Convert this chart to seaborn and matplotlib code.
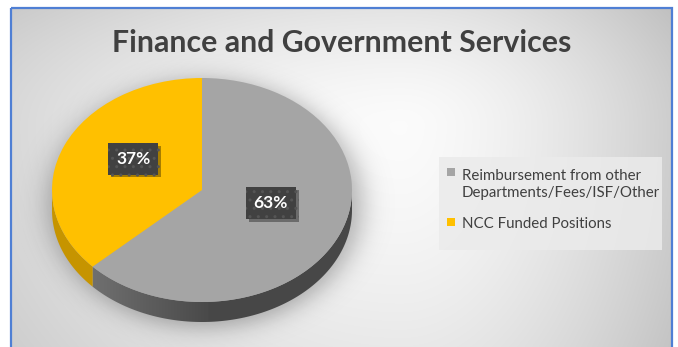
import numpy as np
import matplotlib
matplotlib.use("Agg")
import matplotlib.pyplot as plt
import matplotlib.patheffects as pe
from matplotlib.patches import Rectangle, Polygon
import seaborn as sns

# ---- data -------------------------------------------------------------
categories = ["Reimbursement from other\nDepartments/Fees/ISF/Other",
              "NCC Funded Positions"]
shares = [63, 37]
pct_labels = ["63%", "37%"]
chart_title = "Finance and Government Services"

# ---- styling ----------------------------------------------------------
sns.set_theme(style="white")
plt.rcParams["font.family"] = ["Lato", "DejaVu Sans"]

top_colors = ["#a5a5a5", "#ffc000"]
text_color = "#404040"

W, H = 678, 347
fig = plt.figure(figsize=(W / 100, H / 100), dpi=100)
fig.patch.set_facecolor("white")

# background layer in pixel units (y grows downward)
bg = fig.add_axes([0, 0, 1, 1])
bg.set_xlim(0, W)
bg.set_ylim(H, 0)
bg.axis("off")

yy, xx = np.mgrid[0:H, 0:W] + 0.5
dx = np.where(xx < 400, (xx - 400) / 520, (xx - 400) / 300)
dy = np.where(yy < 120, (yy - 120) / 200, (yy - 120) / 450)
r = np.sqrt(dx ** 2 + dy ** 2)
shade = np.clip(0.985 - 0.20 * r ** 1.5, 0, 1)
grad = np.dstack([shade, shade, shade])
bg.imshow(grad, extent=(11, 672, H, 8), origin="upper", aspect="auto",
          interpolation="bilinear", zorder=0)

# soft shadow under the pie
rs = np.sqrt(((xx - 205) / 157) ** 2 + ((yy - 204) / 124) ** 2)
alpha = 0.28 / (1 + np.exp((rs - 1.0) / 0.05))
shadow = np.zeros((H, W, 4))
shadow[..., 3] = alpha
bg.imshow(shadow, extent=(0, W, H, 0), origin="upper", aspect="auto",
          interpolation="bilinear", zorder=1)

# legend panel
bg.add_patch(Rectangle((439, 157), 223, 93, facecolor="#ebebeb",
                       edgecolor="none", alpha=0.85, zorder=2))

# chart frame
bg.add_patch(Rectangle((10.5, 7.5), 661.5, 360, facecolor="none",
                       edgecolor="#4f7fd4", linewidth=1.6, zorder=5,
                       clip_on=False))

# ---- pie --------------------------------------------------------------
cx, cy, a, b = 202, 190, 150, 112   # ellipse of the top face, px
side_px = 20
depth = side_px / b                  # side thickness in axis units
pie_ax = fig.add_axes([(cx - a) / W, (H - cy - b - side_px) / H,
                       2 * a / W, (2 * b + side_px) / H])
pie_ax.patch.set_alpha(0)

wedges, _ = pie_ax.pie(shares, colors=top_colors, startangle=90,
                       counterclock=False, radius=1,
                       wedgeprops=dict(linewidth=0))
pie_ax.set_aspect("auto")
pie_ax.axis("off")
for w in wedges:
    w.set_zorder(3)
    w.set_clip_on(False)


def front_range(t1, t2):
    """Part of a wedge's arc lying on the front half (180..360 deg)."""
    t1, t2 = t1 % 360, t2 % 360
    if t2 <= t1:
        t2 += 360
    lo, hi = max(t1, 180), min(t2, 360)
    if hi <= lo:
        lo, hi = max(t1, 540), min(t2, 720)
    return (lo, hi) if hi > lo else None


side_grad = np.concatenate([np.linspace(0.44, 0.29, 90),
                            np.full(110, 0.28)])[None, :]
side_rgb = np.dstack([side_grad, side_grad, side_grad])
for w, col in zip(wedges, top_colors):
    rng = front_range(w.theta1, w.theta2)
    if rng is None:
        continue
    t = np.radians(np.linspace(rng[0], rng[1], 120))
    xs = np.cos(t)
    ys = np.sin(t)
    verts = np.vstack([np.column_stack([xs, ys]),
                       np.column_stack([xs[::-1], ys[::-1] - depth])])
    if col == top_colors[0]:
        poly = Polygon(verts, closed=True, facecolor="none",
                       edgecolor="none", transform=pie_ax.transData)
        pie_ax.add_patch(poly)
        im = pie_ax.imshow(side_rgb, extent=(-0.75, 1.0, -1 - depth, 0),
                           aspect="auto", zorder=2, interpolation="bilinear")
        im.set_clip_path(poly)
    else:
        poly = Polygon(verts, closed=True, facecolor="#c69400",
                       edgecolor="none", zorder=2, clip_on=False)
        pie_ax.add_patch(poly)
pie_ax.set_xlim(-1, 1)
pie_ax.set_ylim(-1 - depth, 1)

# percentage labels on dark badges
for w, lab in zip(wedges, pct_labels):
    mid = np.radians((w.theta1 + w.theta2) / 2)
    tx = pie_ax.text(0.5 * np.cos(mid), 0.5 * np.sin(mid) + 0.08, lab,
                     ha="center", va="center", color="white",
                     fontsize=12.5, fontweight="bold", zorder=6,
                     bbox=dict(boxstyle="square,pad=0.45", facecolor="#414141",
                               edgecolor="#555555", linewidth=0,
                               hatch=".."))
    tx.get_bbox_patch().set_path_effects(
        [pe.SimplePatchShadow(offset=(2, -2), shadow_rgbFace="black",
                              alpha=0.35), pe.Normal()])

# ---- title and legend -------------------------------------------------
fig.text(342 / W, 1 - 43 / H, chart_title, ha="center", va="center",
         fontsize=21.8, fontweight="bold", color=text_color)

# legend entries: square key aligned with the first line of its label
key_tops = [168, 218]
line_step = 19
for w, lab, ky in zip(wedges, categories, key_tops):
    bg.add_patch(Rectangle((447, ky), 8, 8, facecolor=w.get_facecolor(),
                           edgecolor="none", zorder=4))
    n_lines = lab.count("\n") + 1
    bg.text(462, ky + 10 + (n_lines - 1) * line_step, lab, ha="left",
            va="baseline", fontsize=10.8, color=text_color,
            linespacing=1.27, zorder=4)

fig.savefig("out.png", dpi=100)
